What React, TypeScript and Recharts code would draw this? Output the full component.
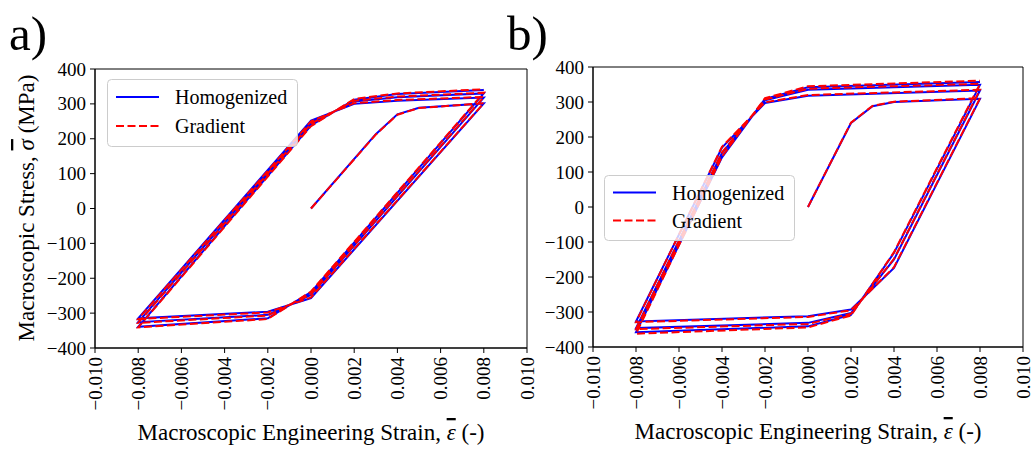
import React from 'react';
import { LineChart, Line, XAxis, YAxis, ReferenceArea, Label } from 'recharts';

// ---- data ----
const strainA = [0, 0.003, 0.004, 0.005, 0.008, 0, -0.002, -0.008, 0, 0.002, 0.004, 0.008, 0, -0.002, -0.008, 0, 0.002, 0.004, 0.008, 0, -0.002, -0.008, 0, 0.002, 0.004, 0.008];
const homogenizedA = [0, 213, 270, 289, 301, -257, -296, -315, 252, 300, 309, 318, -248, -305, -326, 245, 307, 319, 330, -240, -315, -339, 238, 312, 328, 340];
const gradientA = [0, 212, 269, 288, 302, -255, -298, -317, 250, 302, 311, 320, -246, -307, -328, 243, 309, 321, 332, -238, -317, -341, 236, 314, 330, 342];

const strainB = [0, 0.002, 0.003, 0.004, 0.008, 0.004, 0.002, 0, -0.008, -0.004, -0.002, 0, 0.008, 0.004, 0.002, 0, -0.008, -0.004, -0.002, 0, 0.008, 0.004, 0.002, 0, -0.008, -0.004, -0.002, 0, 0.008];
const homogenizedB = [0, 240, 288, 300, 309, -174, -293, -312, -327, 170, 297, 318, 333, -150, -303, -331, -346, 154, 305, 335, 349, -131, -308, -341, -358, 142, 309, 342, 357];
const gradientB = [0, 241, 289, 301, 311, -172, -295, -314, -329, 172, 299, 320, 335, -148, -305, -334, -349, 156, 307, 338, 352, -129, -310, -344, -362, 144, 311, 345, 361];

const xTicks = [-0.01, -0.008, -0.006, -0.004, -0.002, 0, 0.002, 0.004, 0.006, 0.008, 0.01];
const yTicks = [-400, -300, -200, -100, 0, 100, 200, 300, 400];

const seriesNames = ['Homogenized', 'Gradient'];
const xTitleParts = ['Macroscopic Engineering Strain, ', '\u03B5', ' (-)'];
const yTitleParts = ['Macroscopic Stress, ', '\u03C3', ' (MPa)'];

const FONT = "'Liberation Serif', 'DejaVu Serif', serif";
const TICK_FS = 19;
const TITLE_FS = 23;
const LEGEND_FS = 20;
const BLUE = '#0000ff';
const RED = '#ff0000';
const DASH = '8 3.5';

const rows = (xs: number[], ys: number[]) => xs.map((x, i) => ({ x, y: ys[i] }));

const fmtX = (v: number) => (v < -1e-9 ? '\u2212' : '') + Math.abs(v).toFixed(3);
const fmtY = (v: number) => (v < 0 ? '\u2212' : '') + String(Math.abs(v));

const XTick = (props: any) => {
  const { x, y, payload } = props;
  return (
    <text x={x} y={y} transform={`rotate(-90 ${x} ${y})`} textAnchor="end" dominantBaseline="central"
      fontFamily={FONT} fontSize={TICK_FS} fill="#000">{fmtX(payload.value)}</text>
  );
};

const YTick = (props: any) => {
  const { x, y, payload } = props;
  return (
    <text x={x} y={y} textAnchor="end" dominantBaseline="central" fontFamily={FONT} fontSize={TICK_FS} fill="#000">
      {fmtY(payload.value)}
    </text>
  );
};

const TitleText = ({ parts }: { parts: string[] }) => (
  <>
    <tspan>{parts[0]}</tspan>
    <tspan style={{ textDecoration: 'overline', fontStyle: 'italic' }}>{parts[1]}</tspan>
    <tspan>{parts[2]}</tspan>
  </>
);

type PanelProps = {
  strain: number[];
  hom: number[];
  grad: number[];
  width: number;
  height: number;
  margin: { top: number; right: number; bottom: number; left: number };
};

function Panel({ strain, hom, grad, width, height, margin }: PanelProps) {
  const homData = rows(strain, hom);
  const gradData = rows(strain, grad);
  return (
    <LineChart width={width} height={height} margin={margin}>
      <XAxis type="number" dataKey="x" domain={[-0.01, 0.01]} ticks={xTicks} interval={0} allowDataOverflow
        tick={<XTick />} tickSize={5} tickMargin={4} height={100}
        axisLine={{ stroke: '#000', strokeWidth: 1 }} tickLine={{ stroke: '#000', strokeWidth: 1 }}>
        <Label content={(p: any) => {
          const vb = p.viewBox;
          return (
            <text x={vb.x + vb.width / 2} y={vb.y + 92} textAnchor="middle" fontFamily={FONT} fontSize={TITLE_FS} fill="#000">
              <TitleText parts={xTitleParts} />
            </text>
          );
        }} />
      </XAxis>
      <YAxis type="number" domain={[-400, 400]} ticks={yTicks} interval={0} allowDataOverflow
        tick={<YTick />} tickSize={5} tickMargin={4} width={60}
        axisLine={{ stroke: '#000', strokeWidth: 1 }} tickLine={{ stroke: '#000', strokeWidth: 1 }} />
      <ReferenceArea x1={-0.01} x2={0.01} y1={-400} y2={400} fill="none" fillOpacity={0} stroke="#000" strokeWidth={1} ifOverflow="visible" />
      <Line data={homData} dataKey="y" name={seriesNames[0]} stroke={BLUE} strokeWidth={2} dot={false} activeDot={false} isAnimationActive={false} />
      <Line data={gradData} dataKey="y" name={seriesNames[1]} stroke={RED} strokeWidth={2} strokeDasharray={DASH} dot={false} activeDot={false} isAnimationActive={false} />
    </LineChart>
  );
}

function LegendBox({ x, y, w, h }: { x: number; y: number; w: number; h: number }) {
  const r1 = y + h * 0.27;
  const r2 = y + h * 0.7;
  return (
    <g>
      <rect x={x + 0.5} y={y + 0.5} width={w} height={h} rx={4} ry={4} fill="#fff" fillOpacity={0.8} stroke="#cccccc" strokeWidth={1} />
      <line x1={x + 9} x2={x + 52} y1={r1} y2={r1} stroke={BLUE} strokeWidth={2} />
      <text x={x + 68} y={r1} dominantBaseline="central" fontFamily={FONT} fontSize={LEGEND_FS} fill="#000">{seriesNames[0]}</text>
      <line x1={x + 9} x2={x + 52} y1={r2} y2={r2} stroke={RED} strokeWidth={2} strokeDasharray={DASH} />
      <text x={x + 68} y={r2} dominantBaseline="central" fontFamily={FONT} fontSize={LEGEND_FS} fill="#000">{seriesNames[1]}</text>
    </g>
  );
}

export default function App() {
  return (
    <div style={{ position: 'absolute', left: 0, top: 0, width: 1032, height: 456, background: '#fff', overflow: 'hidden' }}>
      <div style={{ position: 'absolute', left: 0, top: 0 }}>
        <Panel strain={strainA} hom={homogenizedA} grad={gradientA} width={540} height={456}
          margin={{ top: 69, right: 13, bottom: 8, left: 35 }} />
      </div>
      <div style={{ position: 'absolute', left: 500, top: 0 }}>
        <Panel strain={strainB} hom={homogenizedB} grad={gradientB} width={532} height={456}
          margin={{ top: 67, right: 9, bottom: 9, left: 33 }} />
      </div>
      <svg width={1032} height={456} style={{ position: 'absolute', left: 0, top: 0, pointerEvents: 'none' }}>
        <text x={9} y={50} fontFamily={FONT} fontSize={49} fill="#000">a)</text>
        <text x={507} y={50} fontFamily={FONT} fontSize={49} fill="#000">b)</text>
        <text x={26} y={208} transform="rotate(-90 26 208)" textAnchor="middle" dominantBaseline="central"
          fontFamily={FONT} fontSize={TITLE_FS} fill="#000"><TitleText parts={yTitleParts} /></text>
        <LegendBox x={107} y={79} w={190} h={67} />
        <LegendBox x={604} y={175} w={190} h={65} />
      </svg>
    </div>
  );
}
